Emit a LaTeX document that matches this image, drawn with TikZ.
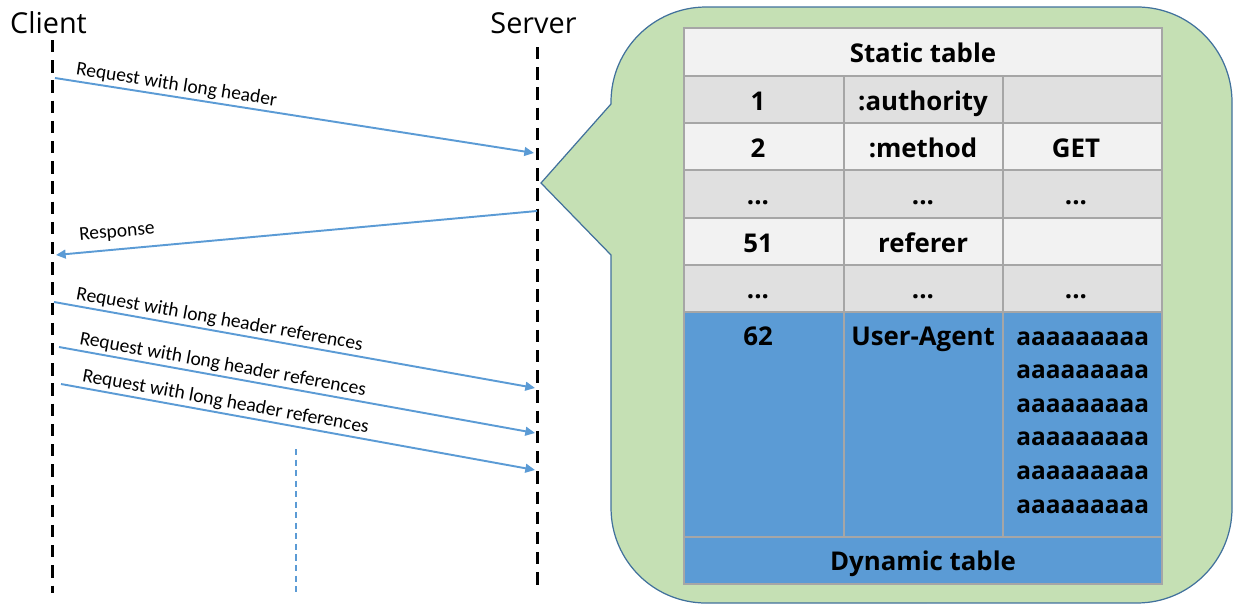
\documentclass[tikz,border=0pt]{standalone}
\usepackage{fontspec}
\setmainfont{Open Sans}
\newfontfamily\lblfont{Carlito}
\usetikzlibrary{arrows.meta}

\definecolor{msgblue}{HTML}{5B9BD5}
\definecolor{bubblegreen}{HTML}{C5E0B4}
\definecolor{bubbleline}{HTML}{41719C}
\definecolor{rowlight}{HTML}{F2F2F2}
\definecolor{rowdark}{HTML}{E0E0E0}
\definecolor{rowblue}{HTML}{5B9BD5}
\definecolor{gridgray}{HTML}{A6A6A6}

\tikzset{
	lifeline/.style={line width=1.7pt, dash pattern=on 7pt off 4.5pt},
	msg/.style={draw=msgblue, line width=1.1pt, -{Triangle[length=5.5pt,width=5pt]}},
	lbl/.style={font=\lblfont\fontsize{11.1}{13}\selectfont, sloped, above, inner sep=1.2pt},
	cell/.style={font=\bfseries\fontsize{14.7}{17}\selectfont, inner sep=0pt, anchor=base},
	tabline/.style={draw=gridgray, line width=1.1pt}
}

\begin{document}
\begin{tikzpicture}[x=0.02cm, y=-0.02cm]
		\useasboundingbox (0,0) rectangle (1233,605);
		
		\node[font=\fontsize{16.4}{20}\selectfont, anchor=base] (client) at (48.5,33) {Client};
		
		\node[font=\fontsize{16.4}{20}\selectfont, anchor=base] (server) at (533.5,33) {Server};
		
		\coordinate (ctop) at (52.5,40);
		\coordinate (cbot) at (52.5,593);
		\coordinate (stop) at (537,47);
		\coordinate (sbot) at (537,590);
		
		\draw[lifeline] (ctop) -- (cbot);
		
		\draw[lifeline] (stop) -- (sbot);
		
		\coordinate (c1) at (55,78);
		\coordinate (s1) at (534,153);
		\coordinate (s2) at (537,211);
		\coordinate (c2) at (56,255);
		\coordinate (c3) at (54,302);
		\coordinate (s3) at (535,388);
		\coordinate (c4) at (59,347);
		\coordinate (s4) at (535,433);
		\coordinate (c5) at (61,384);
		\coordinate (s5) at (535,470);
		
		\draw[msg] (c1) -- node[lbl, pos=0.25] (req1) {Request with long header} (s1);
		
		\draw[msg] (s2) -- node[lbl, pos=0.87, inner sep=4.5pt] (resp) {Response} (c2);
		
		\draw[msg] (c3) -- node[lbl, pos=0.34] (req3) {Request with long header references} (s3);
		
		\draw[msg] (c4) -- node[lbl, pos=0.34] (req4) {Request with long header references} (s4);
		
		\draw[msg] (c5) -- node[lbl, pos=0.343] (req5) {Request with long header references} (s5);
		
		\coordinate (gtop) at (296,449);
		\coordinate (gbot) at (296,593);
		
		\draw[msgblue, line width=0.6pt, dash pattern=on 3.5pt off 2.5pt] (gtop) -- (gbot);
		
		\draw[fill=bubblegreen, draw=bubbleline, line width=0.7pt] (541,183) -- (611,104) -- (611,102)
			arc[start angle=180, end angle=90, radius=1.9cm] -- (1137,7)
			arc[start angle=90, end angle=0, radius=1.9cm] -- (1232,508)
			arc[start angle=0, end angle=-90, radius=1.9cm] -- (706,603)
			arc[start angle=270, end angle=180, radius=1.9cm] -- (611,255) -- cycle;
		
		\foreach \ya/\yb/\rowcol in {28/76/rowlight, 76/123/rowdark, 123/170/rowlight, 170/218/rowdark, 218/265/rowlight, 265/312/rowdark, 312/584/rowblue}
			\fill[\rowcol] (684,\ya) rectangle (1162,\yb);
		
		\foreach \yy in {76,123,170,218,265,312,537}
			\draw[tabline] (684,\yy) -- (1162,\yy);
		
		\foreach \xx in {844,1003}
			\draw[tabline] (\xx,76) -- (\xx,537);
		
		\draw[tabline] (684,28) rectangle (1162,584);
		
		\node[cell] (static) at (923,62) {Static table};
		
		\node[cell] (n1) at (758,110) {1};
		\node[cell] (k1) at (923,110) {:authority};
		
		\node[cell] (n2) at (758,157) {2};
		\node[cell] (k2) at (923,157) {:method};
		\node[cell] (v2) at (1076,157) {GET};
		
		\node[cell] (n3) at (758,204) {...};
		\node[cell] (k3) at (923,204) {...};
		\node[cell] (v3) at (1076,204) {...};
		
		\node[cell] (n4) at (758,252) {51};
		\node[cell] (k4) at (923,252) {referer};
		
		\node[cell] (n5) at (758,298) {...};
		\node[cell] (k5) at (923,298) {...};
		\node[cell] (v5) at (1076,298) {...};
		
		\node[cell] (n6) at (758,345) {62};
		\node[cell] (k6) at (923,345) {User-Agent};
		\foreach \i in {0,...,5}
			\node[cell, anchor=base west, font=\bfseries\fontsize{13.9}{17}\selectfont] (v6\i) at (1016,{345+33.6*\i}) {aaaaaaaaa};
		
		\node[cell] (dynamic) at (923,570) {Dynamic table};
		
	\end{tikzpicture}
\end{document}
